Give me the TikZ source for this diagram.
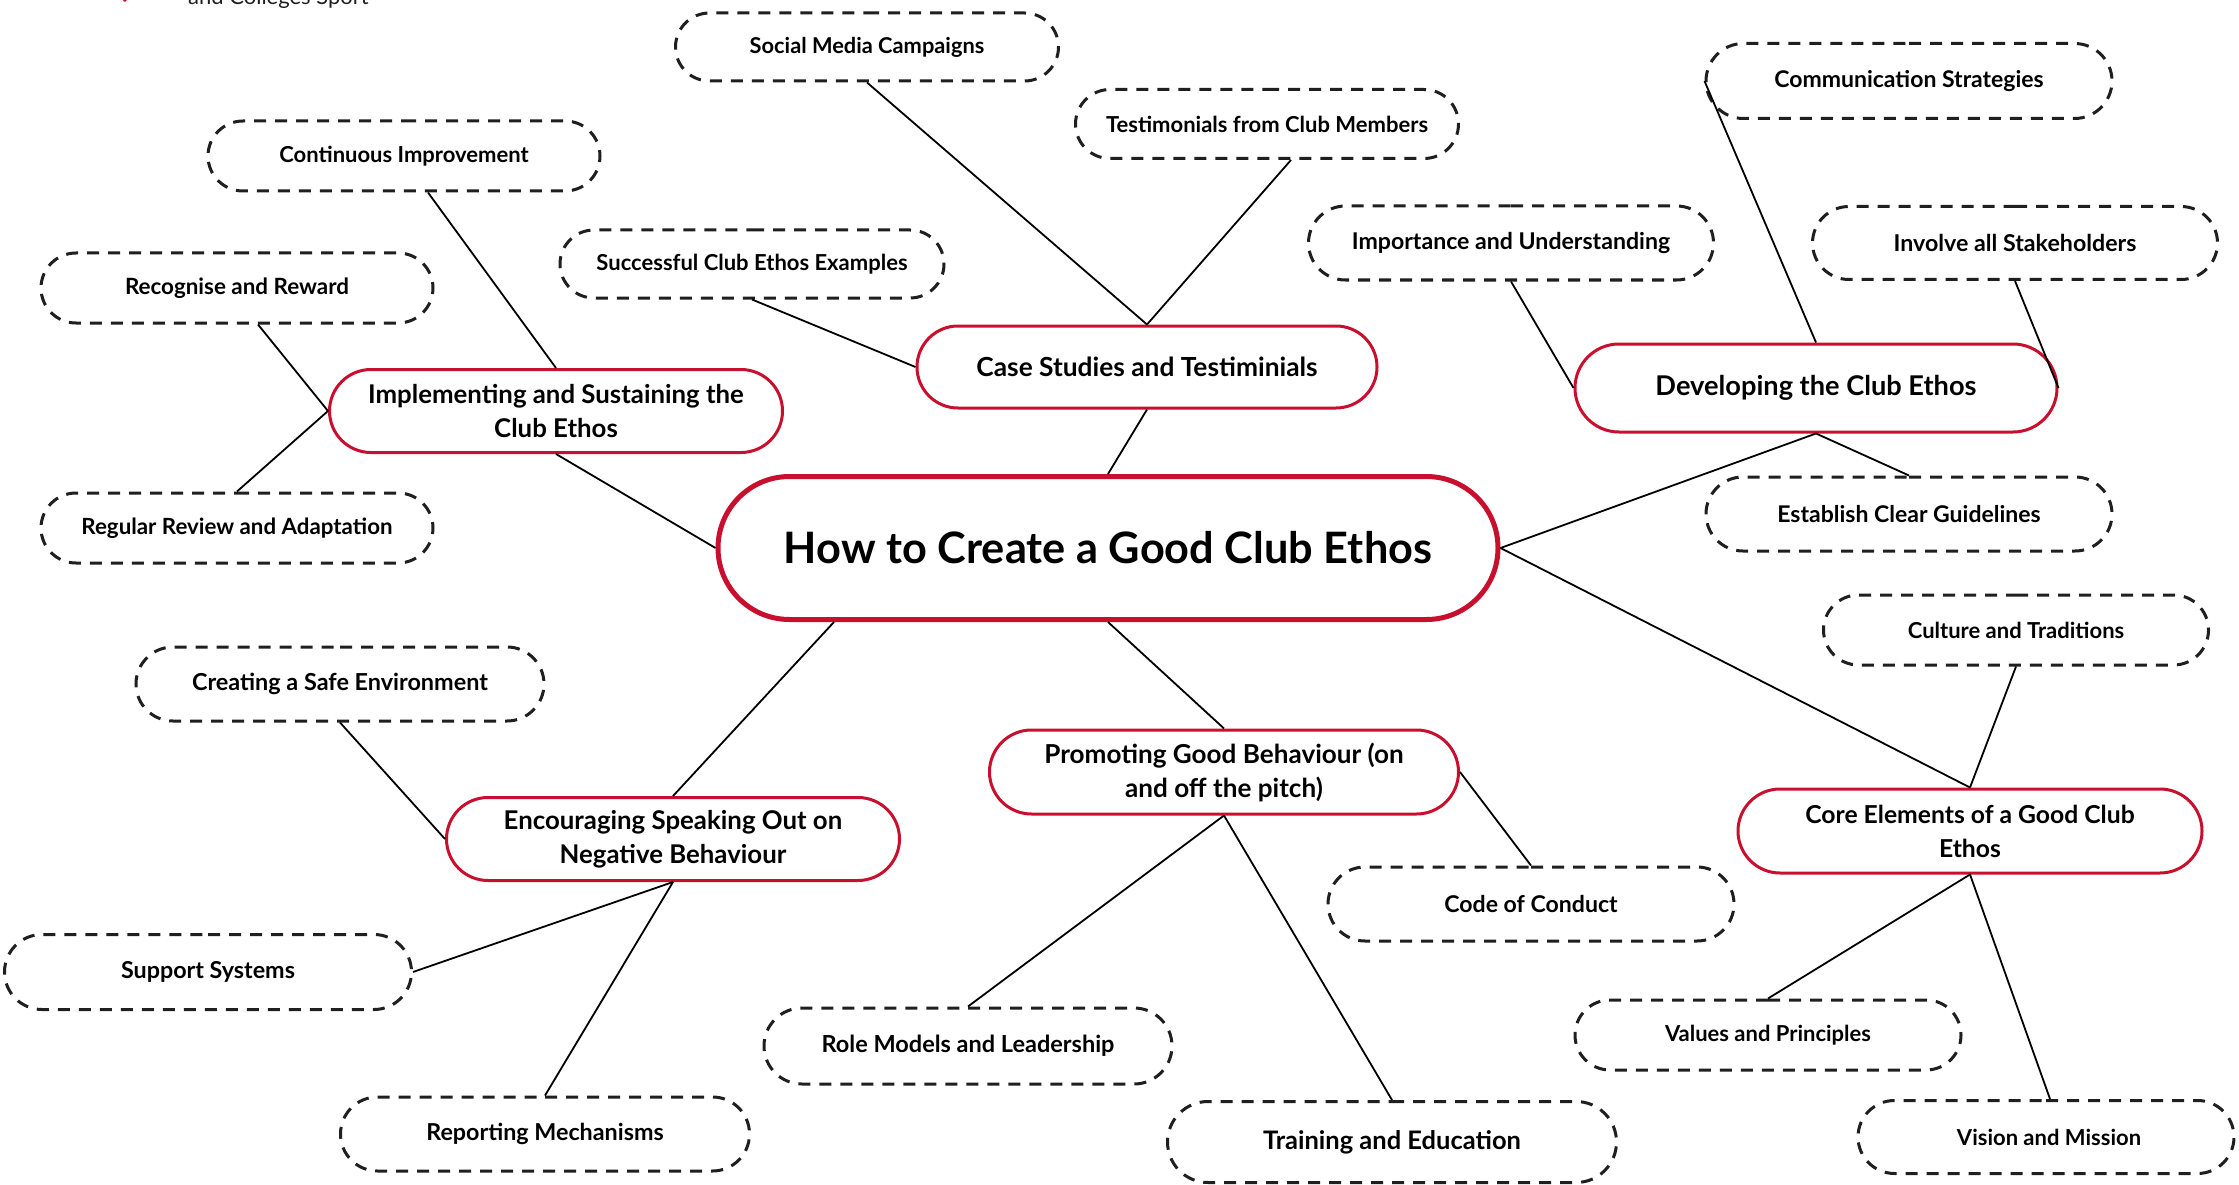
\documentclass[tikz,border=0pt]{standalone}
\usepackage{fontspec}
\setmainfont{Lato}
\newfontfamily\symfont{DejaVu Sans}
\usetikzlibrary{shapes.misc}
\definecolor{clubred}{RGB}{200,16,46}
\tikzset{
  redbox/.style={rounded rectangle, draw=clubred, line width=3pt, fill=white, align=center,
    font=\fontsize{25.8}{34}\selectfont\bfseries, inner sep=0pt},
  dashbox/.style={rounded rectangle, draw=black!88, line width=3pt, dash pattern=on 12pt off 9pt,
    fill=white, align=center, font=\fontsize{22}{28}\selectfont\bfseries, inner sep=0pt},
  fs/.style={font=\fontsize{#1}{34}\selectfont\bfseries},
  conn/.style={draw=black, line width=1.8pt}
}
\begin{document}
\begin{tikzpicture}[x=1pt,y=-1pt]
\useasboundingbox (0,0) rectangle (2239,1185);
% header fragment
\node[anchor=base west, inner sep=0pt, font=\fontsize{22}{26}\selectfont, text=black!88] (hdr) at (188,5) {and Colleges Sport};
\node[anchor=base, inner sep=0pt, font=\fontsize{24}{26}\selectfont\symfont\bfseries, text=clubred] (chk) at (129,5) {✓};
% central
\node[rounded rectangle, draw=clubred, line width=5pt, fill=white, inner sep=0pt,
  minimum width=780pt, minimum height=143pt, font=\fontsize{43.3}{52}\selectfont\bfseries] (cen) at (1108,548) {How to Create a Good Club Ethos};
% red nodes
\node[redbox, fs=26.3, minimum width=460pt, minimum height=82pt] (case) at (1147,367) {Case Studies and Testiminials};
\node[redbox, fs=27.2, minimum width=482pt, minimum height=88pt] (dev) at (1816,388) {Developing the Club Ethos};
\node[redbox, fs=25.8, minimum width=453pt, minimum height=83pt] (imp) at (556,411) {Implementing and Sustaining the\\Club Ethos};
\node[redbox, fs=25.8, minimum width=453pt, minimum height=83pt] (enc) at (673,839) {Encouraging Speaking Out on\\Negative Behaviour};
\node[redbox, fs=26.1, minimum width=469pt, minimum height=84pt] (prom) at (1224,772) {Promoting Good Behaviour (on\\and off the pitch)};
\node[redbox, fs=24.7, minimum width=464pt, minimum height=84pt] (core) at (1970,831) {Core Elements of a Good Club\\Ethos};
% dashed nodes
\node[dashbox, minimum width=383pt, minimum height=68pt, font=\fontsize{21.8}{28}\selectfont\bfseries] (soc) at (867,47) {Social Media Campaigns};
\node[dashbox, minimum width=383pt, minimum height=69pt] (test) at (1267,124) {Testimonials from Club Members};
\node[dashbox, minimum width=406pt, minimum height=75pt, font=\fontsize{23}{28}\selectfont\bfseries] (comm) at (1909,81) {Communication Strategies};
\node[dashbox, minimum width=392pt, minimum height=70pt] (cont) at (404,156) {Continuous Improvement};
\node[dashbox, minimum width=384pt, minimum height=68pt] (succ) at (752,264) {Successful Club Ethos Examples};
\node[dashbox, minimum width=405pt, minimum height=74pt, font=\fontsize{23.1}{28}\selectfont\bfseries] (impt) at (1511,243) {Importance and Understanding};
\node[dashbox, minimum width=405pt, minimum height=73pt, font=\fontsize{23.2}{28}\selectfont\bfseries] (inv) at (2015,243) {Involve all Stakeholders};
\node[dashbox, minimum width=392pt, minimum height=70pt, font=\fontsize{22.4}{28}\selectfont\bfseries] (rec) at (237,288) {Recognise and Reward};
\node[dashbox, minimum width=392pt, minimum height=70pt, font=\fontsize{22.3}{28}\selectfont\bfseries] (reg) at (237,528) {Regular Review and Adaptation};
\node[dashbox, minimum width=406pt, minimum height=74pt, font=\fontsize{23}{28}\selectfont\bfseries] (est) at (1909,514) {Establish Clear Guidelines};
\node[dashbox, minimum width=385pt, minimum height=70pt] (cul) at (2016,630) {Culture and Traditions};
\node[dashbox, minimum width=408pt, minimum height=74pt, font=\fontsize{23.4}{28}\selectfont\bfseries] (crea) at (340,684) {Creating a Safe Environment};
\node[dashbox, minimum width=406pt, minimum height=74pt, font=\fontsize{23.1}{28}\selectfont\bfseries] (code) at (1531,904) {Code of Conduct};
\node[dashbox, minimum width=407pt, minimum height=75pt, font=\fontsize{23.3}{28}\selectfont\bfseries] (sup) at (208,972) {Support Systems};
\node[dashbox, minimum width=386pt, minimum height=70pt] (val) at (1768,1035) {Values and Principles};
\node[dashbox, minimum width=408pt, minimum height=76pt, font=\fontsize{23.5}{28}\selectfont\bfseries] (role) at (968,1046) {Role Models and Leadership};
\node[dashbox, minimum width=409pt, minimum height=74pt, font=\fontsize{23.3}{28}\selectfont\bfseries] (rep) at (545,1134) {Reporting Mechanisms};
\node[dashbox, minimum width=449pt, minimum height=81pt, font=\fontsize{25.5}{30}\selectfont\bfseries] (train) at (1392,1142) {Training and Education};
\node[dashbox, minimum width=376pt, minimum height=73pt] (vis) at (2046,1137) {\hspace*{6pt}Vision and Mission};
% connectors
\draw[conn] (cen.north) -- (case.south);
\draw[conn] (case.north) -- (soc.south);
\draw[conn] (case.north) -- ([xshift=24pt]test.south);
\draw[conn] (case.west) -- (succ.south);
\draw[conn] (cen.west) -- (imp.south);
\draw[conn] (imp.north) -- ([xshift=24pt]cont.south);
\draw[conn] (imp.west) -- ([xshift=21pt]rec.south);
\draw[conn] (imp.west) -- (reg.north);
\draw[conn] (cen.east) -- (dev.south);
\draw[conn] (dev.south) -- (est.north);
\draw[conn] (dev.north) -- (comm.west);
\draw[conn] (dev.west) -- (impt.south);
\draw[conn] (dev.east) -- (inv.south);
\draw[conn] (cen.east) -- (core.north);
\draw[conn] (core.north) -- (cul.south);
\draw[conn] (core.south) -- (val.north);
\draw[conn] (core.south) -- ([xshift=4pt]vis.north);
\draw[conn] (cen.south) -- (prom.north);
\draw[conn] (prom.east) -- (code.north);
\draw[conn] (prom.south) -- (role.north);
\draw[conn] (prom.south) -- (train.north);
\draw[conn] ([xshift=-274pt]cen.south) -- (enc.north);
\draw[conn] (enc.west) -- (crea.south);
\draw[conn] (enc.south) -- (sup.east);
\draw[conn] (enc.south) -- (rep.north);
\end{tikzpicture}
\end{document}
